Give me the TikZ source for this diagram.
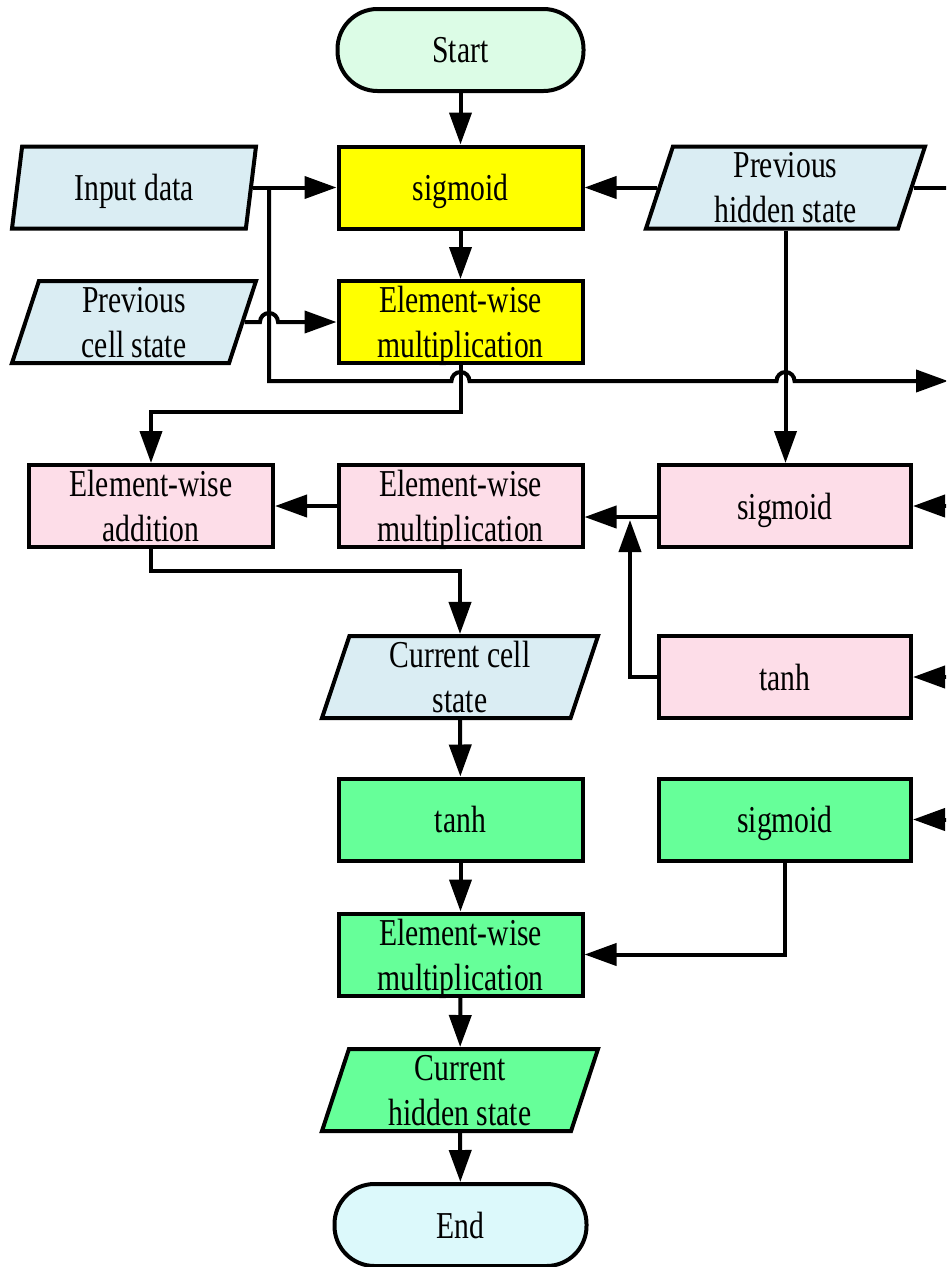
\documentclass[tikz,border=0pt]{standalone}
\usepackage{fontspec}
\setmainfont[FakeStretch=0.78]{Liberation Serif}
\usetikzlibrary{shapes.geometric,arrows.meta,calc}

\definecolor{startfill}{HTML}{DCFCE6}
\definecolor{endfill}{HTML}{DCF9FB}
\definecolor{iofill}{HTML}{DAEDF3}
\definecolor{yellowfill}{HTML}{FFFF00}
\definecolor{pinkfill}{HTML}{FDDDE8}
\definecolor{greenfill}{HTML}{66FF99}

\tikzset{
  stepbox/.style={draw, rectangle, inner sep=0pt, align=center, text depth=0pt,
    minimum width=244pt, minimum height=82pt},
  widebox/.style={stepbox, minimum width=252pt},
  iobox/.style={draw, trapezium, trapezium left angle=69, trapezium right angle=111,
    trapezium stretches body, inner sep=0pt, align=center, text depth=0pt,
    minimum height=82pt, fill=iofill},
  termbox/.style={draw, rectangle, rounded corners=40pt, inner sep=0pt, align=center,
    minimum width=246pt, minimum height=82pt},
  flow/.style={-{Triangle[length=32pt,width=22pt]}}
}

\begin{document}
\begin{tikzpicture}[x=1pt, y=-1pt, line width=4pt, font=\fontsize{38}{45}\selectfont]
\useasboundingbox (0,0) rectangle (946,1267);
\clip (0,0) rectangle (946,1267);

% ---- nodes ----
\node[termbox, fill=startfill] (start) at (460.5,50) {Start};
\node[stepbox, fill=yellowfill] (sig1) at (460.5,187.5) {sigmoid};
\node[stepbox, fill=yellowfill] (mul1) at (460.5,322) {Element-wise\\multiplication};
\node[iobox, minimum width=244pt] (in) at (134,187.5) {Input data};
\node[iobox, minimum width=244pt] (pcs) at (134,322) {Previous\\cell state};
\node[iobox, minimum width=279pt] (phs) at (785.5,187.5) {Previous\\hidden state};

\node[stepbox, fill=pinkfill] (add) at (151,506) {Element-wise\\addition};
\node[stepbox, fill=pinkfill] (mul2) at (460.5,506) {Element-wise\\multiplication};
\node[widebox, fill=pinkfill] (sig2) at (785,506) {sigmoid};

\node[iobox, minimum width=276pt] (ccs) at (460,677) {Current cell\\state};
\node[widebox, fill=pinkfill] (tanh1) at (785,677) {tanh};

\node[stepbox, fill=greenfill] (tanh2) at (460.5,819.5) {tanh};
\node[widebox, fill=greenfill] (sig3) at (785,819.5) {sigmoid};
\node[stepbox, fill=greenfill] (mul3) at (460.5,954.5) {Element-wise\\multiplication};
\node[iobox, fill=greenfill, minimum width=276pt] (chs) at (460,1090) {Current\\hidden state};
\node[termbox, fill=endfill, minimum width=252pt] (end) at (460.5,1225) {End};

% ---- junctions and free ends ----
\coordinate (rx) at (962,0);          % beyond the right border
\coordinate (j1) at (269,187.5);      % branch on the input line
\coordinate (j2) at (269,381);        % corner of the branch
\coordinate (outR) at (948,381);      % arrow leaving to the right
\coordinate (k1) at (460.5,412);
\coordinate (k2) at (151,571);
\coordinate (j3) at (630,520);        % joins the sigmoid output line

% ---- main column ----
\draw[flow] (start) -- (sig1);
\draw[flow] (sig1) -- (mul1);
\draw[flow] (in.east) -- (in.east -| sig1.west);
\draw[flow] (phs.west) -- (phs.west -| sig1.east);
\draw (phs.east) -- (phs.east -| rx);

% previous cell state, hopping over the branch line
\draw[flow] (pcs.east) -- ($(j2 |- pcs.east)+(-9,0)$)
  arc[start angle=180, end angle=0, radius=9pt] -- (pcs.east -| mul1.west);

% branch of the input line, hopping over two vertical lines
\draw[flow] (j1) -- (j2) -- ($(k1 |- j2)+(-9,0)$)
  arc[start angle=180, end angle=0, radius=9pt]
  -- ($(phs.south |- j2)+(-9,0)$)
  arc[start angle=180, end angle=0, radius=9pt] -- (outR);

\draw[flow] (phs.south) -- (phs.south |- sig2.north);
\draw[flow] (mul1.south) -- (k1) -| (add.north);

% pink row
\draw[flow] (mul2.west) -- (add.east);
\draw[flow] ($(sig2.west)+(0,11)$) -- ($(mul2.east)+(0,11)$);
\draw[flow] (tanh1.west) -| (j3);
\draw[flow] (sig2.east -| rx) -- (sig2.east);
\draw[flow] (tanh1.east -| rx) -- (tanh1.east);
\draw[flow] (sig3.east -| rx) -- (sig3.east);

\draw[flow] (add.south) -- (k2) -| (ccs.north);
\draw[flow] (ccs) -- (tanh2);
\draw[flow] (tanh2) -- (mul3);
\draw[flow] (sig3.south) |- (mul3.east);
\draw[flow] (mul3) -- (chs);
\draw[flow] (chs) -- (end);
\end{tikzpicture}
\end{document}
